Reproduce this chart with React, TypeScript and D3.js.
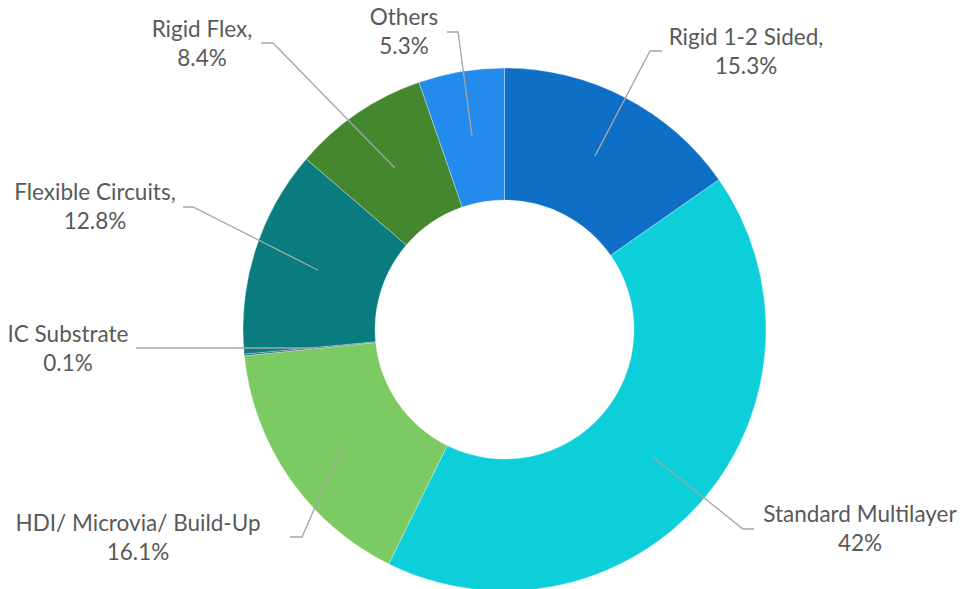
import React from "react";
import * as d3 from "d3";

const categories = [
  "Rigid 1-2 Sided",
  "Standard Multilayer",
  "HDI/ Microvia/ Build-Up",
  "IC Substrate",
  "Flexible Circuits",
  "Rigid Flex",
  "Others",
];
const values = [15.3, 42, 16.1, 0.1, 12.8, 8.4, 5.3];
const valueLabels = ["15.3%", "42%", "16.1%", "0.1%", "12.8%", "8.4%", "5.3%"];
const nameLabels = [
  "Rigid 1-2 Sided,",
  "Standard Multilayer",
  "HDI/ Microvia/ Build-Up",
  "IC Substrate",
  "Flexible Circuits,",
  "Rigid Flex,",
  "Others",
];
const colors = ["#0F6FC6", "#0DCFDA", "#7CCA62", "#1F5F8B", "#0A7C7F", "#44872F", "#238BEB"];

// label layout: elbow point, end point of horizontal leg, text center x, first baseline
const elbows: [number, number][] = [
  [650, 51], [743, 529], [302, 537], [312, 348], [193, 207], [273, 43], [458, 32],
];
const legEnds: [number, number][] = [
  [662, 51], [754, 529], [290, 537], [136, 348], [183, 207], [261, 43], [447, 32],
];
const textPos: [number, number][] = [
  [746, 45], [860, 522], [138, 531], [68, 342], [95, 200], [202, 37], [404, 25],
];

const W = 964;
const H = 589;
const cx = 504.5;
const cy = 329.5;
const rOuter = 261.5;
const rInner = 129.5;

export default function App() {
  const pie = d3.pie<number>().sort(null).value((d) => d)(values);
  const arc = d3.arc<d3.PieArcDatum<number>>().innerRadius(rInner).outerRadius(rOuter);
  return (
    <svg
      width={W}
      height={H}
      style={{ position: "absolute", left: 0, top: 0, background: "#fff" }}
      fontFamily="Lato, 'Open Sans', sans-serif"
    >
      <g transform={`translate(${cx},${cy})`}>
        {pie.map((p, i) => (
          <path key={categories[i]} d={arc(p) || ""} fill={colors[i]} stroke="#ffffff" strokeWidth={0.3} />
        ))}
      </g>
      {pie.map((p, i) => {
        const [x0, y0] = arc.centroid(p);
        const pts = [[cx + x0, cy + y0], elbows[i], legEnds[i]];
        return (
          <polyline
            key={"l" + i}
            points={pts.map((q) => q.join(",")).join(" ")}
            fill="none"
            stroke="#A6A6A6"
            strokeWidth={1.3}
          />
        );
      })}
      {categories.map((c, i) => (
        <text key={"t" + c} x={textPos[i][0]} y={textPos[i][1]} textAnchor="middle" fontSize={22.5} fill="#595959">
          <tspan x={textPos[i][0]}>{nameLabels[i]}</tspan>
          <tspan x={textPos[i][0]} dy={29}>{valueLabels[i]}</tspan>
        </text>
      ))}
    </svg>
  );
}
